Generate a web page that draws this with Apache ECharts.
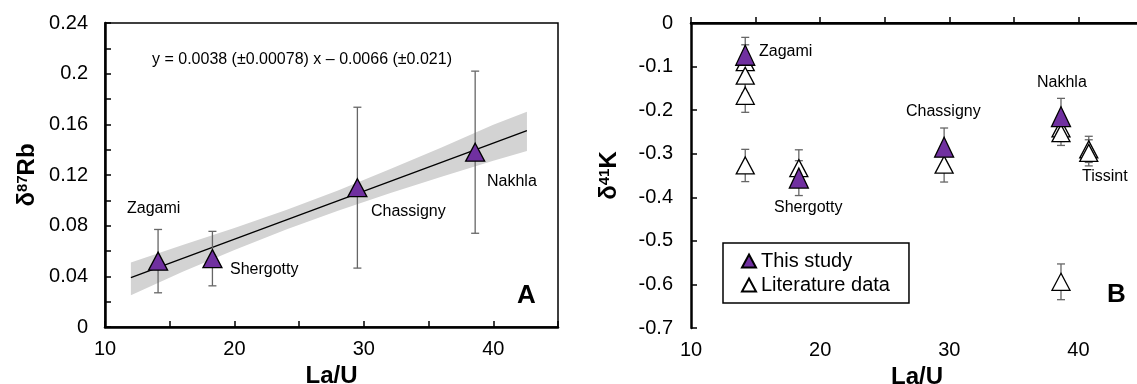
<!DOCTYPE html>
<html>
<head>
<meta charset="utf-8">
<script src="https://cdn.jsdelivr.net/npm/echarts@6/dist/echarts.min.js"></script>
<style>
  html, body { margin: 0; padding: 0; background: #fff; }
  #chart { width: 1137px; height: 384px; }
</style>
</head>
<body>
<div id="chart"></div>
<script>
// --- panel A: d87Rb vs La/U ---
var rbX = [14.1, 18.3, 29.5, 38.6];
var rbY = [0.052, 0.054, 0.110, 0.138];
var rbErr = [0.025, 0.0215, 0.0635, 0.064];

// regression line y = 0.0038x - 0.0066 (end points)
var fitX = [12, 42.6];
var fitY = [0.039, 0.155];

// confidence band
var bandX = [12, 16, 20, 24, 28, 32, 36, 40, 42.6];
var bandLo = [0.025, 0.0436, 0.0607, 0.0769, 0.0918, 0.1055, 0.1186, 0.1312, 0.139];
var bandHi = [0.051, 0.0648, 0.0781, 0.0923, 0.1078, 0.1245, 0.1418, 0.1596, 0.170];

// --- panel B: d41K vs La/U ---
var kStudyX = [14.2, 18.35, 29.6, 38.65];
var kStudyY = [-0.074, -0.356, -0.285, -0.215];
var kStudyErr = [0.041, 0.04, 0.044, 0.042];

var kLitX = [14.2, 14.2, 14.2, 14.2, 18.35, 29.6, 38.65, 38.65, 38.65, 40.8, 40.8];
var kLitY = [-0.09, -0.121, -0.167, -0.327, -0.333, -0.325, -0.242, -0.253, -0.594, -0.29, -0.298];
var kLitErr = [0.04, 0.04, 0.038, 0.037, 0.042, 0.04, 0.03, 0.028, 0.041, 0.03, 0.03];

var purple = '#7030A0';
var font = 'Liberation Sans, Arial, Helvetica, sans-serif';

function pts(xs, ys) {
    return xs.map(function (x, i) { return [x, ys[i]]; });
}
function errRows(xs, ys, es) {
    return xs.map(function (x, i) { return [x, ys[i] - es[i], ys[i] + es[i]]; });
}

function renderErr(params, api) {
    var x = api.value(0);
    var a = api.coord([x, api.value(2)]);
    var b = api.coord([x, api.value(1)]);
    var st = { stroke: '#666', lineWidth: 1.3 };
    return {
        type: 'group',
        children: [
            { type: 'line', shape: { x1: a[0], y1: a[1], x2: b[0], y2: b[1] }, style: st },
            { type: 'line', shape: { x1: a[0] - 4, y1: a[1], x2: a[0] + 4, y2: a[1] }, style: st },
            { type: 'line', shape: { x1: b[0] - 4, y1: b[1], x2: b[0] + 4, y2: b[1] }, style: st }
        ]
    };
}

function renderBand(params, api) {
    if (params.dataIndex !== 0) return null;
    var poly = [];
    for (var i = 0; i < bandX.length; i++) poly.push(api.coord([bandX[i], bandHi[i]]));
    for (var j = bandX.length - 1; j >= 0; j--) poly.push(api.coord([bandX[j], bandLo[j]]));
    return { type: 'polygon', shape: { points: poly }, style: { fill: '#d3d3d3' } };
}

function xAx(idx) {
    return {
        gridIndex: idx, type: 'value', min: 10, max: 45, interval: 5,
        name: 'La/U', nameLocation: 'middle', nameGap: 36,
        nameTextStyle: { fontSize: 24, fontWeight: 'bold', color: '#000', fontFamily: font },
        axisLine: { lineStyle: { color: '#000', width: 2.5 } },
        axisTick: { inside: true, length: 6, lineStyle: { color: '#000', width: 1.5 } },
        axisLabel: {
            fontSize: 20, color: '#000', fontFamily: font, margin: 12,
            formatter: function (v) { return v % 10 === 0 && v < 45 ? String(v) : ''; }
        },
        splitLine: { show: false }
    };
}

var titleRich = {
    d: { fontSize: 24, fontWeight: 'bold', color: '#000', fontFamily: font },
    s: { fontSize: 15, fontWeight: 'bold', color: '#000', fontFamily: font, verticalAlign: 'top', padding: [0, 0, 8, 0] }
};

var myChart = echarts.init(document.getElementById('chart'), null, { renderer: 'canvas' });

var option = {
    animation: false,
    textStyle: { fontFamily: font },
    grid: [
        { left: 105, top: 23, width: 453, height: 304, outerBoundsMode: 'none', show: true, borderColor: '#000', borderWidth: 1.5, backgroundColor: 'transparent' },
        { left: 691, top: 23, width: 452, height: 305, outerBoundsMode: 'none' }
    ],
    xAxis: [
        xAx(0),
        xAx(1),
        {
            gridIndex: 1, type: 'value', position: 'top', min: 10, max: 45,
            axisLine: { show: true, lineStyle: { color: '#000', width: 2 } },
            axisTick: { show: false }, axisLabel: { show: false }, splitLine: { show: false }
        }
    ],
    yAxis: [
        {
            gridIndex: 0, type: 'value', min: 0, max: 0.24, interval: 0.02,
            name: '{d|δ}{s|87}{d|Rb}', nameLocation: 'middle', nameGap: 66, nameRotate: 90,
            nameTextStyle: { rich: titleRich },
            axisLine: { lineStyle: { color: '#000', width: 2.5 } },
            axisTick: { inside: true, length: 6, lineStyle: { color: '#000', width: 1.5 } },
            axisLabel: {
                fontSize: 20, color: '#000', fontFamily: font, margin: 17,
                formatter: function (v) { return Math.round(v * 100) % 4 === 0 ? String(+v.toFixed(2)) : ''; }
            },
            splitLine: { show: false }
        },
        {
            gridIndex: 1, type: 'value', min: -0.7, max: 0, interval: 0.1,
            name: '{d|δ}{s|41}{d|K}', nameLocation: 'middle', nameGap: 70, nameRotate: 90,
            nameTextStyle: { rich: titleRich },
            axisLine: { lineStyle: { color: '#000', width: 2.5 } },
            axisTick: { inside: true, length: 6, lineStyle: { color: '#000', width: 1.5 } },
            axisLabel: {
                fontSize: 20, color: '#000', fontFamily: font, margin: 18,
                formatter: function (v) { return String(+v.toFixed(1)); }
            },
            splitLine: { show: false }
        }
    ],
    legend: {
        data: ['This study', 'Literature data'],
        orient: 'vertical', left: 723, top: 243,
        padding: [8, 19, 8, 18], itemGap: 4, itemWidth: 14, itemHeight: 13,
        borderColor: '#000', borderWidth: 1.5, backgroundColor: '#fff',
        textStyle: { fontSize: 20, color: '#000', fontFamily: font },
        selectedMode: false
    },
    series: [
        {
            type: 'custom', xAxisIndex: 0, yAxisIndex: 0, renderItem: renderBand,
            data: pts(bandX, bandHi), silent: true, z: 1
        },
        {
            type: 'line', xAxisIndex: 0, yAxisIndex: 0, data: pts(fitX, fitY),
            symbol: 'none', lineStyle: { color: '#000', width: 1.3 }, z: 2
        },
        {
            type: 'custom', xAxisIndex: 0, yAxisIndex: 0, renderItem: renderErr,
            data: errRows(rbX, rbY, rbErr), z: 3
        },
        {
            name: 'Rb', type: 'scatter', xAxisIndex: 0, yAxisIndex: 0, data: pts(rbX, rbY),
            symbol: 'triangle', symbolSize: [19, 18],
            itemStyle: { color: purple, borderColor: '#000', borderWidth: 1.3, opacity: 1 }, z: 4
        },
        {
            type: 'custom', xAxisIndex: 1, yAxisIndex: 1, renderItem: renderErr,
            data: errRows(kLitX, kLitY, kLitErr).concat(errRows(kStudyX, kStudyY, kStudyErr)), z: 3
        },
        {
            name: 'Literature data', type: 'scatter', xAxisIndex: 1, yAxisIndex: 1, data: pts(kLitX, kLitY),
            symbol: 'triangle', symbolSize: [18, 17],
            itemStyle: { color: '#fff', borderColor: '#000', borderWidth: 1.3, opacity: 1 }, z: 4
        },
        {
            name: 'This study', type: 'scatter', xAxisIndex: 1, yAxisIndex: 1, data: pts(kStudyX, kStudyY),
            symbol: 'triangle', symbolSize: [19, 20],
            itemStyle: { color: purple, borderColor: '#000', borderWidth: 1.3, opacity: 1 }, z: 5
        }
    ],
    graphic: [
        { type: 'text', left: 152, top: 52, style: { text: 'y = 0.0038 (±0.00078) x – 0.0066 (±0.021)', fill: '#000', font: '16px ' + font } },
        { type: 'text', left: 127, top: 201, style: { text: 'Zagami', fill: '#000', font: '16px ' + font } },
        { type: 'text', left: 230, top: 262, style: { text: 'Shergotty', fill: '#000', font: '16px ' + font } },
        { type: 'text', left: 371, top: 204, style: { text: 'Chassigny', fill: '#000', font: '16px ' + font } },
        { type: 'text', left: 487, top: 174, style: { text: 'Nakhla', fill: '#000', font: '16px ' + font } },
        { type: 'text', left: 517, top: 283, style: { text: 'A', fill: '#000', font: 'bold 26px ' + font } },
        { type: 'text', left: 759, top: 44, style: { text: 'Zagami', fill: '#000', font: '16px ' + font } },
        { type: 'text', left: 774, top: 200, style: { text: 'Shergotty', fill: '#000', font: '16px ' + font } },
        { type: 'text', left: 906, top: 104, style: { text: 'Chassigny', fill: '#000', font: '16px ' + font } },
        { type: 'text', left: 1037, top: 75, style: { text: 'Nakhla', fill: '#000', font: '16px ' + font } },
        { type: 'text', left: 1082, top: 169, style: { text: 'Tissint', fill: '#000', font: '16px ' + font } },
        { type: 'text', left: 1107, top: 282, style: { text: 'B', fill: '#000', font: 'bold 26px ' + font } }
    ]
};

myChart.setOption(option, true);
window.addEventListener('resize', function () { myChart.resize(); });
</script>
</body>
</html>
